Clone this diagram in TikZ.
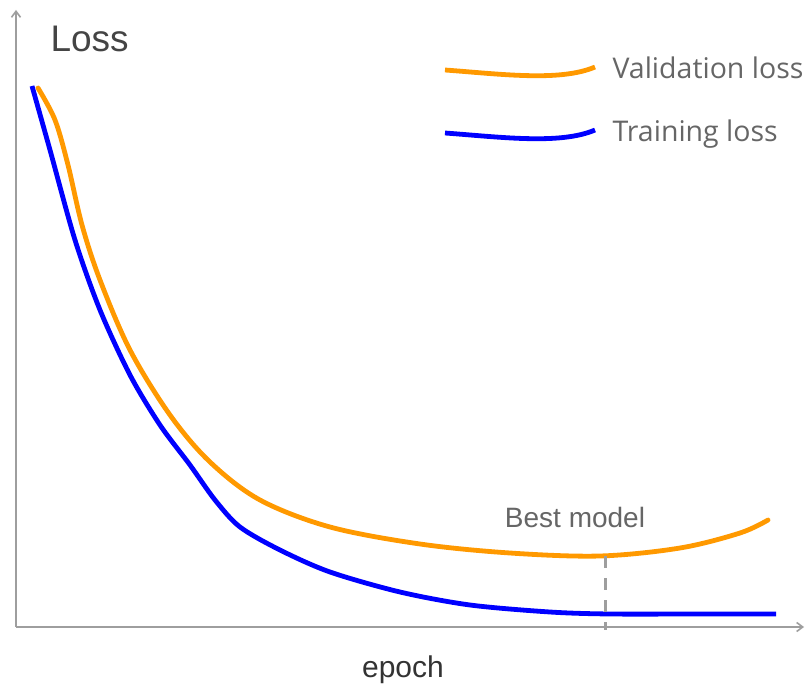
\documentclass[tikz,border=0pt]{standalone}
\usepackage{fontspec}
\setmainfont{Liberation Sans}
\newfontfamily\legendfont{Open Sans}
\usetikzlibrary{arrows.meta}
\definecolor{axisgray}{HTML}{9E9E9E}
\definecolor{valorange}{HTML}{FF9900}
\definecolor{trainblue}{HTML}{0000FF}
\definecolor{labelgray}{HTML}{666666}
\definecolor{titlegray}{HTML}{444444}
\tikzset{
  axis/.style={draw=axisgray, line width=1.6pt, -{Straight Barb[length=6pt,width=9pt]}},
  curve/.style={line width=4.8pt, line cap=round, line join=round},
  legendtext/.style={anchor=west, text=labelgray, font=\legendfont\fontsize{28.5}{32}\selectfont},
}
\begin{document}
\begin{tikzpicture}[x=1pt, y=-1pt]
\useasboundingbox (0,0) rectangle (805,684);

% axes
\coordinate (origin) at (16,627);
\coordinate (ytop) at (16,10);
\coordinate (xend) at (804,627);
\draw[axis] (origin) -- (ytop);
\draw[axis] (origin) -- (xend);

% axis labels
\node[anchor=base west, text=titlegray, font=\fontsize{37}{40}\selectfont] (ylabel) at (47,52) {Loss};
\node[anchor=base, text=black!80, font=\fontsize{30}{34}\selectfont] (xlabel) at (403,677) {epoch};

% validation loss
\draw[curve, valorange] plot[smooth, tension=0.55] coordinates {
  (38,88) (55,120) (68,165) (82,225) (100,280) (130,350) (170,415) (210,462)
  (260,500) (330,527) (420,544) (510,553) (600,556) (680,548) (740,533) (768,520)};

% training loss
\draw[curve, trainblue, line cap=butt] plot[smooth, tension=0.5] coordinates {
  (32,86) (50,150) (75,240) (100,310) (130,375) (160,425) (190,465) (215,500)
  (240,527) (280,550) (330,572) (400,592) (470,605) (550,612) (610,614) (700,614) (776,614)};

% best model marker
\coordinate (bestTop) at (605,556);
\coordinate (bestBot) at (605,630);
\draw[axisgray, line width=3pt, dash pattern=on 12pt off 10pt] (bestTop) -- (bestBot);
\node[anchor=center, text=labelgray, font=\fontsize{28}{32}\selectfont] (best) at (575,517) {Best model};

% legend
\draw[curve, valorange, line cap=butt] (445,70) .. controls (500,74) and (560,82) .. (595,67);
\node[legendtext] (vlab) at (609,68) {Validation loss};
\draw[curve, trainblue, line cap=butt] (445,133) .. controls (500,137) and (560,145) .. (595,130);
\node[legendtext] (tlab) at (609,134) {Training loss};
\end{tikzpicture}
\end{document}
